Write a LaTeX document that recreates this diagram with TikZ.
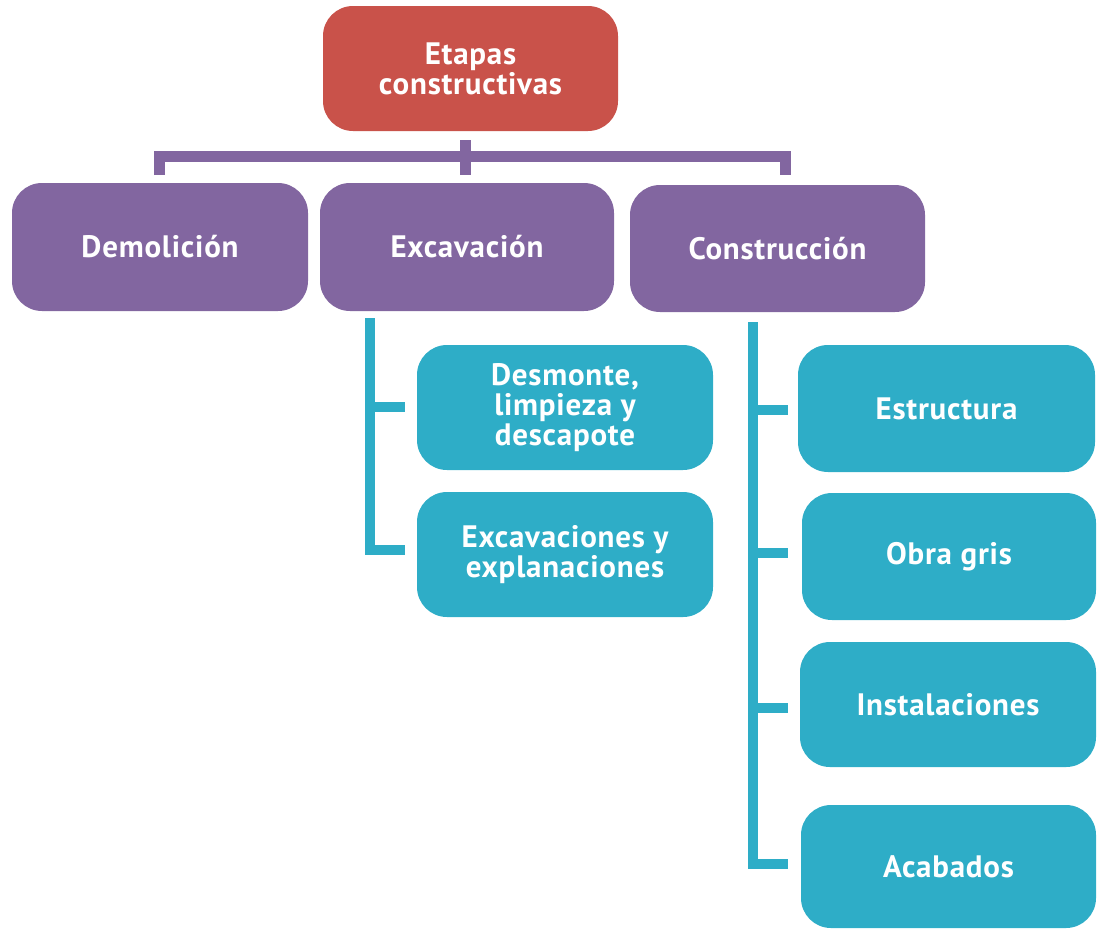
\documentclass[tikz,border=0pt]{standalone}
\usepackage{fontspec}
\setmainfont{PT Sans}[LetterSpace=2.5]
\definecolor{cred}{RGB}{201,82,74}
\definecolor{cpurple}{RGB}{130,102,160}
\definecolor{cteal}{RGB}{46,173,199}
\tikzset{
  boxbase/.style={rounded corners=30pt, inner sep=0pt, align=center, text=white,
    font=\bfseries\fontsize{31}{30}\selectfont, minimum width=296pt, minimum height=126pt},
  rootbox/.style={boxbase, fill=cred},
  purplebox/.style={boxbase, fill=cpurple},
  tealbox/.style={boxbase, fill=cteal},
  purpleline/.style={draw=cpurple, line width=11pt, line join=miter, line cap=butt},
  tealline/.style={draw=cteal, line width=10pt, line join=miter, line cap=butt},
}
\begin{document}
\begin{tikzpicture}[x=1pt,y=-1pt]
\useasboundingbox (0,0) rectangle (1097,930);
% nodes
\node[rootbox, minimum width=295pt, minimum height=125pt] (root) at (470.5,68.5) {Etapas\\constructivas};
\node[purplebox, minimum height=128pt] (dem) at (160,247) {Demolición};
\node[purplebox, minimum width=294pt, minimum height=128pt] (exc) at (467,247) {Excavación};
\node[purplebox, minimum width=295pt, minimum height=127pt] (con) at (777.5,248.5) {Construcción};
\node[tealbox, minimum height=125pt] (desm) at (565,407.5) {Desmonte,\\limpieza y\\descapote};
\node[tealbox, minimum height=125pt] (excv) at (565,554.5) {Excavaciones y\\explanaciones};
\node[tealbox, minimum width=297pt, minimum height=127pt] (estr) at (946.5,408.5) {Estructura};
\node[tealbox, minimum width=294pt, minimum height=127pt] (obra) at (949,556.5) {Obra gris};
\node[tealbox, minimum height=125pt] (inst) at (948,704.5) {Instalaciones};
\node[tealbox, minimum width=295pt, minimum height=123pt] (acab) at (948.5,866.5) {Acabados};
% connector coordinates
\coordinate (rt) at (465,140);
\coordinate (rb) at (465,175);
\coordinate (dt) at (159,175);
\coordinate (ct) at (785,175);
\coordinate (ex0) at (370,318);
\coordinate (ex1) at (405,407);
\coordinate (ex2) at (405,550);
\coordinate (co0) at (753,322);
\coordinate (co1) at (788,410);
\coordinate (co2) at (788,553);
\coordinate (co3) at (788,708);
\coordinate (co4) at (788,864);
% purple connectors
\draw[purpleline] (dt) |- (rt |- 0,156) -| (ct);
\draw[purpleline] (rt) -- (rb);
% teal connectors (Excavación)
\draw[tealline] (ex0) |- (ex2);
\draw[tealline] (ex0 |- ex1) -- (ex1);
% teal connectors (Construcción)
\draw[tealline] (co0) |- (co4);
\draw[tealline] (co0 |- co1) -- (co1);
\draw[tealline] (co0 |- co2) -- (co2);
\draw[tealline] (co0 |- co3) -- (co3);
\end{tikzpicture}
\end{document}
